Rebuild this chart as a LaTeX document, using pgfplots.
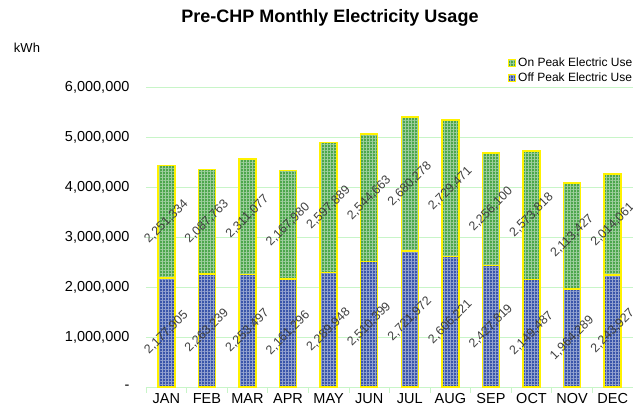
\documentclass[border=0pt]{standalone}
\usepackage{pgfplots}
\pgfplotsset{compat=1.18}
\usepackage{pgfplotstable}
\usepackage{fontspec}
\setmainfont{Liberation Sans}
\usetikzlibrary{patterns.meta}
\definecolor{onpk}{HTML}{4CA64C}
\definecolor{offpk}{HTML}{3A56AA}
\definecolor{gridg}{HTML}{C8F5C8}
\definecolor{lbl}{HTML}{404040}
\pgfplotstableread{
x off on
0 2177905 2251334
1 2263239 2087763
2 2253497 2311077
3 2161296 2167980
4 2289948 2597889
5 2510399 2544663
6 2721972 2680278
7 2606221 2729471
8 2427819 2256100
9 2149487 2573818
10 1964289 2113427
11 2243927 2014061
}\data
\pgfplotsset{common/.style={
  at={(0,0)}, anchor=south west,
  width=487pt, height=300pt, scale only axis,
  clip=false,
  xmin=-0.5, xmax=11.5, ymin=0, ymax=6000000,
}}
\begin{document}
\begin{tikzpicture}
\begin{axis}[
  common,
  ybar stacked, bar width=17pt,
  scaled y ticks=false,
  xtick={0,...,11},
  xticklabels={JAN,FEB,MAR,APR,MAY,JUN,JUL,AUG,SEP,OCT,NOV,DEC},
  minor xtick={-0.5,0.5,...,11.5},
  ytick={0,1000000,2000000,3000000,4000000,5000000,6000000},
  yticklabels={{-\hspace{17pt}},{1,000,000},{2,000,000},{3,000,000},{4,000,000},{5,000,000},{6,000,000}},
  ymajorgrids, grid style={gridg, line width=0.8pt},
  axis x line*=bottom, axis y line*=left,
  y axis line style={draw=none},
  x axis line style={gridg, line width=0.8pt},
  major tick length=0pt,
  minor tick length=6pt,
  tick align=outside,
  minor x tick style={gridg, line width=0.8pt},
  ticklabel style={font=\fontsize{14.5}{16}\selectfont, text=black},
  yticklabel style={xshift=-13pt},
  xticklabel style={yshift=-3pt},
  legend style={at={(rel axis cs:1.003,1.105)}, anchor=north east, draw=none, fill=none,
     font=\fontsize{12}{13}\selectfont, row sep=1pt, inner sep=0pt},
  legend cell align=left,
  reverse legend,
  legend image code/.code={\draw[#1, line width=1pt] (0pt,-3.5pt) rectangle (7pt,3.5pt);},
]
\addplot[fill=offpk, draw=yellow, line width=1.5pt,
  postaction={pattern={Hatch[angle=0,distance=3pt,line width=0.4pt]}, pattern color=offpk!55!white}]
  table[x=x,y=off]{\data};
\addlegendentry{Off Peak Electric Use}
\addplot[fill=onpk, draw=yellow, line width=1.5pt,
  postaction={pattern={Hatch[angle=0,distance=3pt,line width=0.4pt]}, pattern color=onpk!55!white}]
  table[x=x,y=on]{\data};
\addlegendentry{On Peak Electric Use}
\end{axis}
\begin{axis}[
  common, hide axis,
  /pgf/number format/.cd, fixed, precision=0, 1000 sep={,}, assume math mode=true,
  /pgfplots/.cd,
  nodes near coords={\pgfmathprintnumber{\pgfplotspointmeta}},
  point meta=explicit,
  every node near coord/.append style={rotate=45, anchor=center, font=\fontsize{12.5}{14}\selectfont, text=lbl},
]
\addplot[draw=none, mark=none] table[x=x, y expr=\thisrow{off}/2, meta=off]{\data};
\addplot[draw=none, mark=none] table[x=x, y expr=\thisrow{off}+\thisrow{on}/2, meta=on]{\data};
\end{axis}
\node[font=\bfseries\fontsize{18}{20}\selectfont] at (184pt,369pt) {Pre-CHP Monthly Electricity Usage};
\node[font=\fontsize{13}{14}\selectfont] at (-119pt,339pt) {kWh};
\pgfresetboundingbox
\path[use as bounding box] (-146pt,-27pt) rectangle (487pt,387pt);
\end{tikzpicture}
\end{document}
